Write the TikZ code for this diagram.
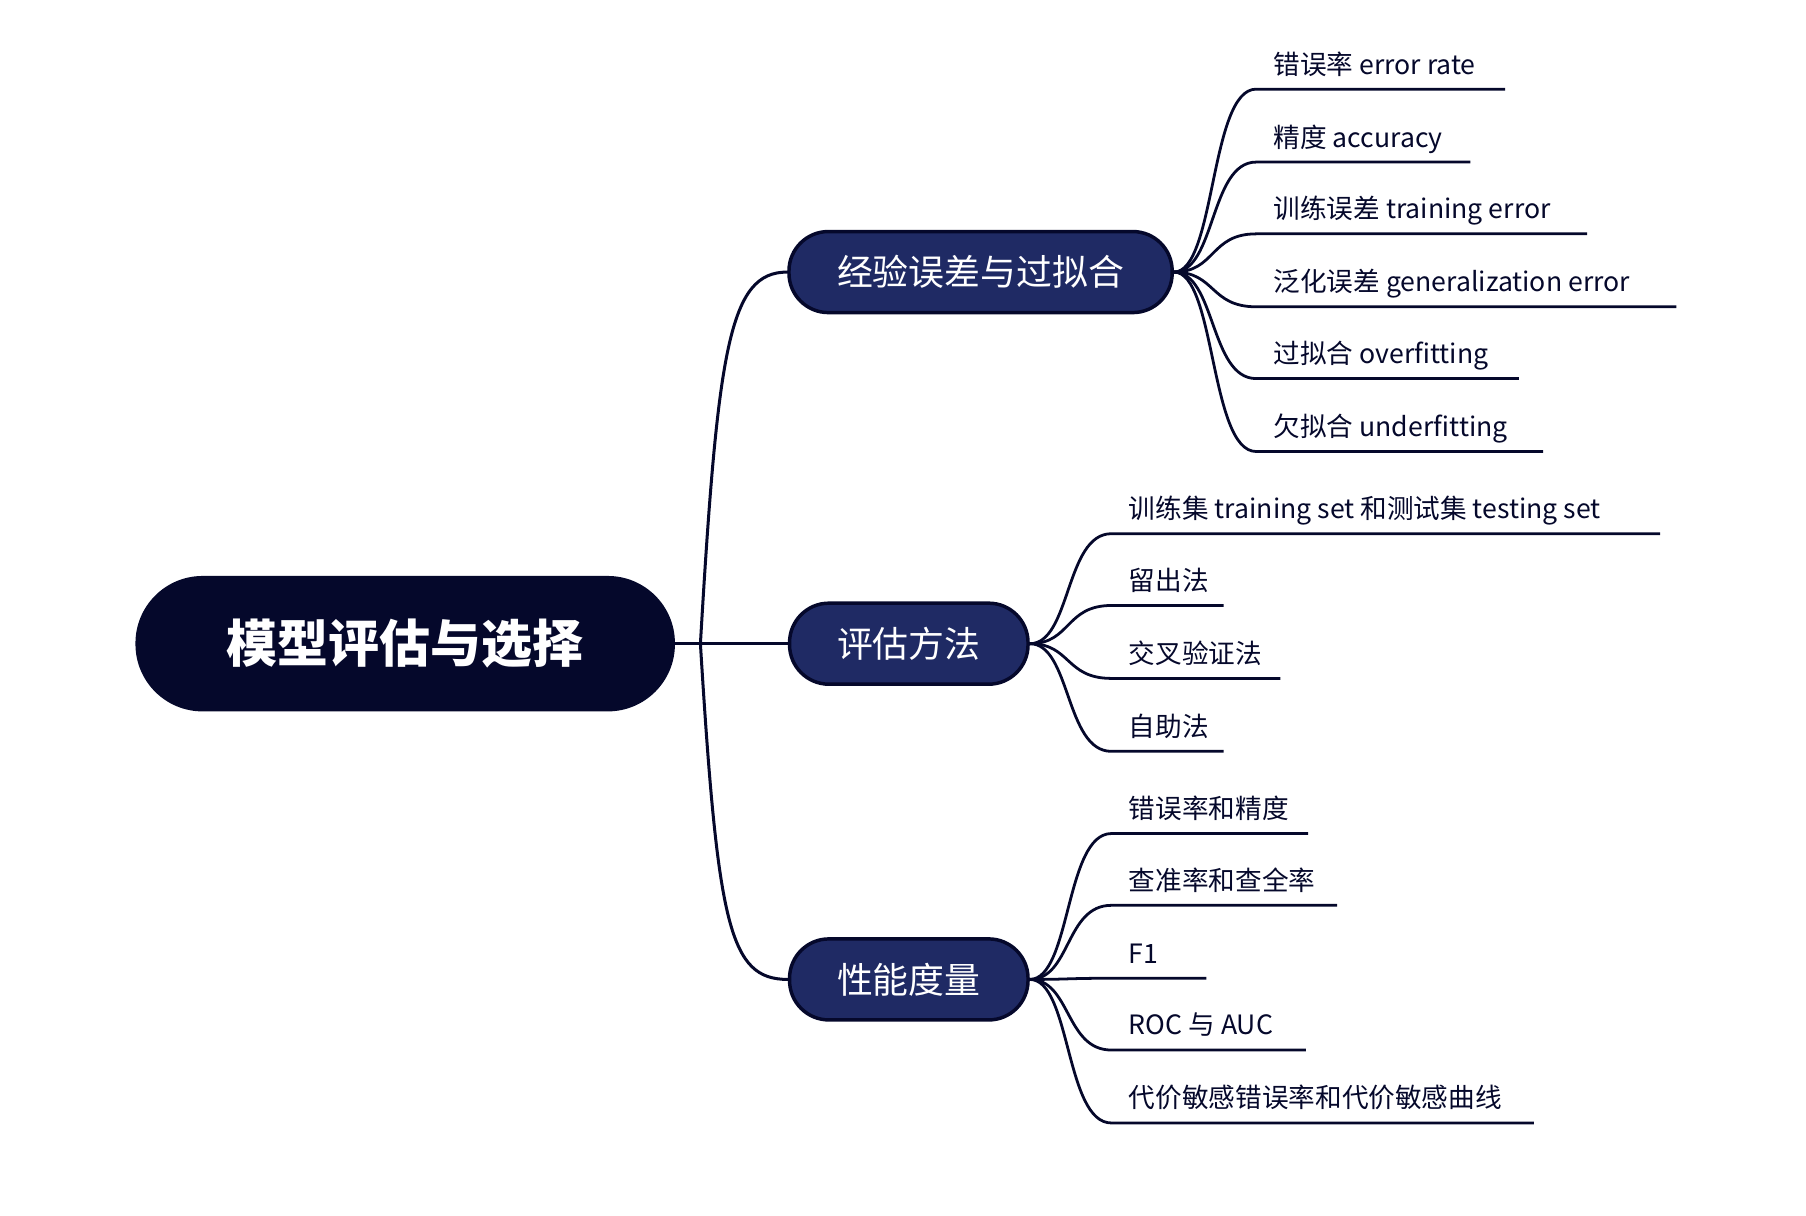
\documentclass[tikz,border=0pt]{standalone}
\usepackage{fontspec}
\setmainfont{Noto Sans CJK SC}
\definecolor{ink}{HTML}{05082B}
\definecolor{branchfill}{HTML}{1F2A64}
\begin{document}
\begin{tikzpicture}[x=1pt,y=-1pt,
    rootbox/.style={rounded corners=58pt,fill=ink,text=white,minimum width=466pt,minimum height=117pt,font=\fontsize{44}{48}\selectfont\bfseries},
    branch/.style={rounded corners=34pt,fill=branchfill,draw=ink,line width=3pt,text=white,minimum height=70pt,font=\fontsize{31}{36}\selectfont},
    leaf/.style={anchor=base west,inner sep=0pt,text=ink,font=\fontsize{23}{26}\selectfont},
    link/.style={draw=ink,line width=2.6pt}]
  \useasboundingbox (0,0) rectangle (1560,1050);

  \node[rootbox] (root) at (350,556) {模型评估与选择};
  \node[branch,minimum width=331pt] (fit) at (847,235) {经验误差与过拟合};
  \node[branch,minimum width=206pt] (eval) at (785,556) {评估方法};
  \node[branch,minimum width=206pt] (perf) at (785,846) {性能度量};

  % trunk
  \coordinate (fork) at (605,556);
  \draw[link] (root.east) -- (eval.west);
  \draw[link] (fork) .. controls (620,300) and (630,235) .. (fit.west);
  \draw[link] (fork) .. controls (620,800) and (630,846) .. (perf.west);

  % leaves of the first branch
  \foreach \y/\e/\t [count=\i] in {77/1300/错误率 error rate,140/1270/精度 accuracy,
      202/1371/训练误差 training error,265/1448/泛化误差 generalization error,
      327/1312/过拟合 overfitting,390/1333/欠拟合 underfitting}{
    \node[leaf] (fit\i) at (1100,\y-13) {\t};
    \coordinate (fitend\i) at (\e,\y);
    \draw[link,line width=2.4pt] (fit.east) .. controls (1050,235) and (1045,\y) .. (1085,\y) -- (fitend\i);
  }

  % leaves of the second branch
  \foreach \y/\e/\t [count=\i] in {461/1434/训练集 training set 和测试集 testing set,
      523/1057/留出法,586/1106/交叉验证法,649/1057/自助法}{
    \node[leaf] (eval\i) at (975,\y-13) {\t};
    \coordinate (evalend\i) at (\e,\y);
    \draw[link,line width=2.4pt] (eval.east) .. controls (925,556) and (920,\y) .. (960,\y) -- (evalend\i);
  }

  % leaves of the third branch
  \foreach \y/\e/\t [count=\i] in {720/1130/错误率和精度,782/1155/查准率和查全率,
      845/1042/F1,907/1128/ROC 与 AUC,970/1325/代价敏感错误率和代价敏感曲线}{
    \node[leaf] (perf\i) at (975,\y-13) {\t};
    \coordinate (perfend\i) at (\e,\y);
    \draw[link,line width=2.4pt] (perf.east) .. controls (925,846) and (920,\y) .. (960,\y) -- (perfend\i);
  }
\end{tikzpicture}
\end{document}
